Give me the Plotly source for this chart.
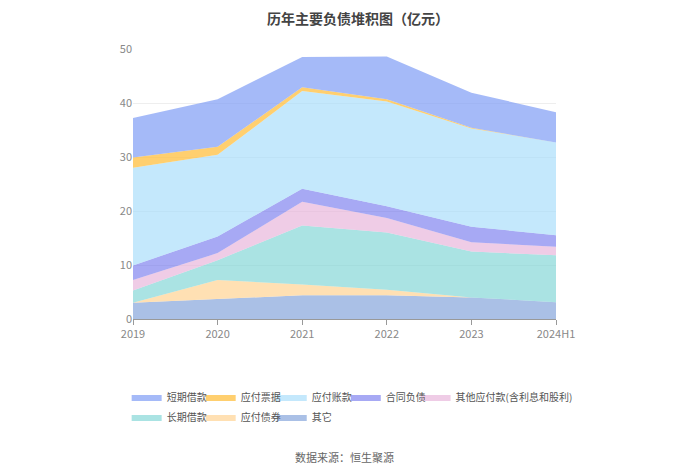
import plotly.graph_objects as go

# %% data
years = ['2019', '2020', '2021', '2022', '2023', '2024H1']

qita = [3.0, 3.7, 4.4, 4.4, 4.0, 3.1]             # 其它
yingfu_zhaiquan = [0.0, 3.5, 2.0, 1.0, 0.0, 0.0]  # 应付债券
changqi = [2.3, 3.7, 10.9, 10.6, 8.5, 8.7]        # 长期借款
qita_yingfu = [1.9, 1.3, 4.4, 2.7, 1.7, 1.6]      # 其他应付款(含利息和股利)
hetong = [2.7, 3.1, 2.4, 2.2, 2.9, 2.1]           # 合同负债
zhangkuan = [18.1, 15.1, 18.1, 19.4, 18.2, 17.2]  # 应付账款
piaoju = [1.9, 1.5, 0.7, 0.4, 0.1, 0.0]           # 应付票据
duanqi = [7.3, 8.8, 5.6, 7.9, 6.5, 5.6]           # 短期借款

# bottom -> top
series = [
    ('其它', qita, 'rgba(134,165,219,0.7)'),
    ('应付债券', yingfu_zhaiquan, 'rgba(255,216,160,0.8)'),
    ('长期借款', changqi, 'rgba(125,212,212,0.65)'),
    ('其他应付款(含利息和股利)', qita_yingfu, 'rgba(230,177,217,0.65)'),
    ('合同负债', hetong, 'rgba(108,112,236,0.6)'),
    ('应付账款', zhangkuan, 'rgba(165,220,250,0.65)'),
    ('应付票据', piaoju, 'rgba(255,191,63,0.75)'),
    ('短期借款', duanqi, 'rgba(127,156,245,0.7)'),
]

# legend slot (x in paper, row) per trace, same order as series
slots = [(0.328, 1), (0.160, 1), (-0.015, 1),
         (0.668, 0), (0.503, 0), (0.328, 0), (0.160, 0), (-0.015, 0)]
row_y = [-0.235, -0.309]

# %% figure
fig = go.Figure()
legends = {}
for i, ((name, vals, col), (lx, row)) in enumerate(zip(series, slots)):
    lid = 'legend' if i == 0 else f'legend{i + 1}'
    fig.add_trace(go.Scatter(
        x=years, y=vals, name=name, mode='lines', legend=lid,
        stackgroup='one', line=dict(width=0), fillcolor=col,
    ))
    legends[lid] = dict(orientation='h', x=lx, xanchor='left', y=row_y[row],
                        yanchor='top', font=dict(size=10, color='#555'),
                        itemwidth=30, bgcolor='rgba(0,0,0,0)')

fig.update_layout(
    width=700, height=474,
    paper_bgcolor='white', plot_bgcolor='white',
    font=dict(family='Noto Sans CJK SC', size=11, color='#666'),
    margin=dict(l=125, r=152, t=41, b=163),
    title=dict(text='<b>历年主要负债堆积图（亿元）</b>', x=0.5, xanchor='center',
               y=0.977, yanchor='middle', font=dict(size=14, color='#444')),
    showlegend=True,
    xaxis=dict(type='category', range=[0, 5], showgrid=False, showline=True,
               linecolor='#999', ticks='outside', tickcolor='#999', ticklen=5,
               tickfont=dict(color='#888')),
    yaxis=dict(range=[0, 50], dtick=10, showgrid=True, gridcolor='#eeeeee',
               zeroline=False, showline=False, tickfont=dict(color='#888')),
    **legends,
)

fig.add_annotation(text='数据来源：恒生聚源', xref='paper', yref='paper',
                   x=0.5, y=-0.511, xanchor='center', yanchor='middle',
                   showarrow=False, font=dict(size=11, color='#666'))

fig.write_html('out.html')
